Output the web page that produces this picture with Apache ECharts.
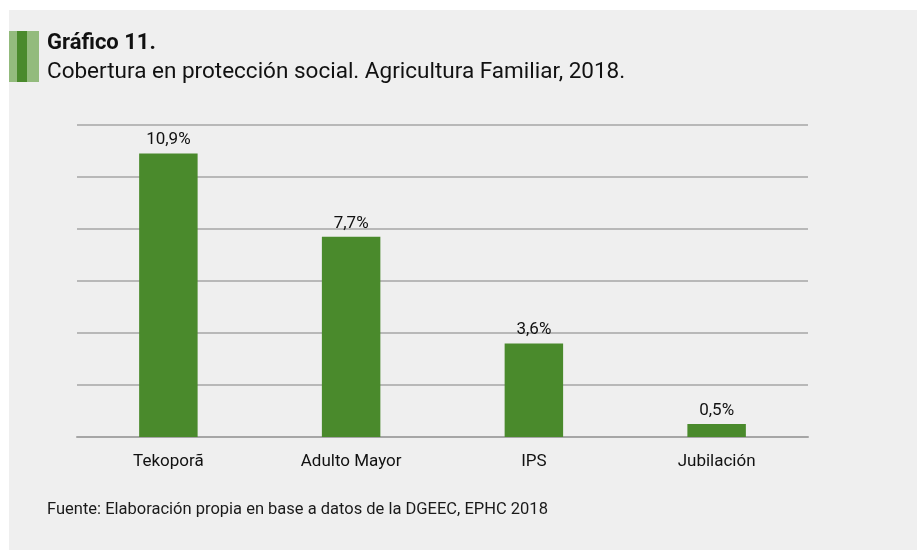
<!DOCTYPE html>
<html><head><meta charset="utf-8">
<script src="https://cdn.jsdelivr.net/npm/echarts@6/dist/echarts.min.js"></script>
<style>html,body{margin:0;padding:0;background:#fff}#c{width:919px;height:550px}</style>
</head><body><div id="c"></div>
<script>
const categories = ['Tekoporã', 'Adulto Mayor', 'IPS', 'Jubilación'];
const values = [10.9, 7.7, 3.6, 0.5];
const titleText = 'Gráfico 11.';
const subtitleText = 'Cobertura en protección social. Agricultura Familiar, 2018.';
const sourceText = 'Fuente: Elaboración propia en base a datos de la DGEEC, EPHC 2018';

const chart = echarts.init(document.getElementById('c'));
chart.setOption({
  backgroundColor: '#ffffff',
  animation: false,
  graphic: [
    { type: 'rect', shape: { x: 9, y: 10, width: 908, height: 540 }, style: { fill: '#efefef' }, z: -10 },
    { type: 'rect', shape: { x: 9, y: 31, width: 8, height: 51 }, style: { fill: '#93bb7d' } },
    { type: 'rect', shape: { x: 17, y: 31, width: 10, height: 51 }, style: { fill: '#4a8a2c' } },
    { type: 'rect', shape: { x: 27, y: 31, width: 12, height: 51 }, style: { fill: '#93bb7d' } },
    { type: 'text', left: 47, top: 501, style: { text: sourceText, font: '16.5px Roboto', fill: '#1a1a1a' } }
  ],
  title: [{
    text: titleText,
    left: 42,
    top: 27,
    textStyle: { fontFamily: 'Roboto', fontWeight: 'bold', fontSize: 22, color: '#111' }
  }, {
    text: subtitleText,
    left: 42,
    top: 56,
    textStyle: { fontFamily: 'Roboto', fontWeight: 'normal', fontSize: 22.5, color: '#111' }
  }],
  grid: { left: 77, right: 111, top: 125, bottom: 113 },
  xAxis: {
    type: 'category',
    data: categories,
    axisTick: { show: false },
    axisLine: { lineStyle: { color: '#a6a6a6', width: 2 } },
    axisLabel: { fontFamily: 'Roboto', fontSize: 17, color: '#111', margin: 16 }
  },
  yAxis: {
    type: 'value',
    min: 0, max: 12, interval: 2,
    axisLabel: { show: false },
    axisLine: { show: false },
    axisTick: { show: false },
    splitLine: { lineStyle: { color: '#a6a6a6', width: 1.5 } }
  },
  series: [{
    type: 'bar',
    data: values,
    barWidth: '32%',
    itemStyle: { color: '#4a8a2c' },
    label: {
      show: true,
      position: 'top',
      distance: 5,
      fontFamily: 'Roboto',
      fontSize: 17,
      color: '#111',
      formatter: p => p.value.toFixed(1).replace('.', ',') + '%'
    }
  }]
});
</script></body></html>
